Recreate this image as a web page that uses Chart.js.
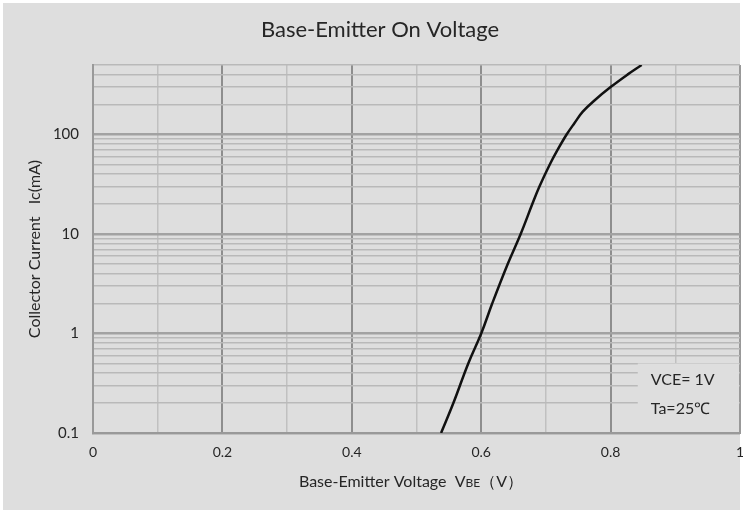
<!DOCTYPE html>
<html>
<head>
<meta charset="utf-8">
<script src="https://cdn.jsdelivr.net/npm/chart.js@4.4.0/dist/chart.umd.min.js"></script>
<style>
html,body{margin:0;padding:0;background:#fff;}
#c{display:block;}
</style>
</head>
<body>
<canvas id="c" width="743" height="513"></canvas>
<script>
// Data
const vbe = [0.538, 0.557, 0.580, 0.600, 0.617, 0.641, 0.661, 0.679, 0.690, 0.706, 0.718, 0.732, 0.744, 0.757, 0.775, 0.800, 0.826, 0.848];
const ic  = [0.1,   0.2,   0.5,   1,     2,     5,     10,    20,    30,    50,    70,    100,   130,   170,   220,   300,   400,   500];
const xTicks = [0, 0.1, 0.2, 0.3, 0.4, 0.5, 0.6, 0.7, 0.8, 0.9, 1];
const yTicks = [0.1,0.2,0.3,0.4,0.5,0.6,0.7,0.8,0.9,1,2,3,4,5,6,7,8,9,10,20,30,40,50,60,70,80,90,100,200,300,400,500];
const yLabels = [0.1, 1, 10, 100];
const titleText = 'Base-Emitter On Voltage';
const xTitleParts = ['Base-Emitter Voltage  V', 'BE', '（V）'];
const yTitleText = 'Collector Current   Ic(mA)';
const noteLines = ['VCE= 1V', 'Ta=25℃'];

const FONT = 'Lato, "Open Sans", sans-serif';
const BG = '#dedede';
const TXT = '#262626';

const bgPlugin = {
  id: 'bg',
  beforeDraw(chart) {
    const ctx = chart.ctx;
    ctx.save();
    ctx.fillStyle = '#ffffff';
    ctx.fillRect(0, 0, chart.width, chart.height);
    ctx.fillStyle = BG;
    ctx.fillRect(3, 3, chart.width - 6, chart.height - 6);
    ctx.restore();
  },
  afterDraw(chart) {
    const ctx = chart.ctx;
    const a = chart.chartArea;
    ctx.save();
    ctx.fillStyle = TXT;
    ctx.textBaseline = 'alphabetic';
    // chart title
    ctx.font = '22px ' + FONT;
    ctx.textAlign = 'center';
    ctx.fillText(titleText, 380, 37);
    // x axis title with small-caps subscript
    ctx.textAlign = 'left';
    const f1 = '16px ' + FONT, f2 = '12px ' + FONT;
    ctx.font = f1; const w0 = ctx.measureText(xTitleParts[0]).width;
    ctx.font = f2; const w1 = ctx.measureText(xTitleParts[1]).width;
    ctx.font = f1; const w2 = ctx.measureText(xTitleParts[2]).width;
    const total = w0 + w1 + w2;
    let x0 = 411 - total / 2;
    const base = 487;
    ctx.font = f1; ctx.fillText(xTitleParts[0], x0, base); x0 += w0;
    ctx.font = f2; ctx.fillText(xTitleParts[1], x0, base); x0 += w1;
    ctx.font = f1; ctx.fillText(xTitleParts[2], x0, base);
    // y axis title
    ctx.translate(35, (a.top + a.bottom) / 2);
    ctx.rotate(-Math.PI / 2);
    ctx.textAlign = 'center';
    ctx.textBaseline = 'middle';
    ctx.font = '16px ' + FONT;
    ctx.fillText(yTitleText, 0, 0);
    ctx.restore();
  },
  afterDatasetsDraw(chart) {
    const ctx = chart.ctx;
    const a = chart.chartArea;
    const xs = chart.scales.x, ys = chart.scales.y;
    ctx.save();
    const bx = xs.getPixelForValue(0.842), by = ys.getPixelForValue(0.5);
    ctx.fillStyle = BG;
    ctx.fillRect(bx, by, a.right - bx - 1, a.bottom - by - 1);
    ctx.fillStyle = TXT;
    ctx.font = '16px ' + FONT;
    ctx.textAlign = 'left';
    ctx.textBaseline = 'middle';
    ctx.fillText(noteLines[0], bx + 13, by + 16);
    ctx.fillText(noteLines[1], bx + 13, by + 45);
    ctx.restore();
  }
};

const isDecade = v => Math.abs(Math.log10(v) - Math.round(Math.log10(v))) < 1e-6;

new Chart(document.getElementById('c'), {
  type: 'line',
  data: {
    datasets: [{
      data: vbe.map((v, i) => ({x: v, y: ic[i]})),
      borderColor: '#111',
      borderWidth: 2.5,
      pointRadius: 0,
      tension: 0.4,
      fill: false
    }]
  },
  options: {
    responsive: false,
    animation: false,
    devicePixelRatio: 1,
    layout: {padding: {left: 0, top: 65, right: 3, bottom: 0}},
    plugins: {legend: {display: false}, title: {display: false}, tooltip: {enabled: false}},
    scales: {
      x: {
        type: 'linear',
        min: 0, max: 1,
        afterBuildTicks: s => { s.ticks = xTicks.map(v => ({value: v})); },
        afterFit: s => { s.height = 80; s.paddingLeft = 0; s.paddingRight = 0; },
        ticks: {
          autoSkip: false,
          maxRotation: 0,
          padding: 11,
          color: TXT,
          font: {family: FONT, size: 14},
          callback: v => (Math.round(v * 10) % 2 === 0 ? String(Math.round(v * 10) / 10) : '')
        },
        grid: {
          drawTicks: false,
          color: c => {
            const v = Math.round(c.tick.value * 10);
            if (v === 0 || v === 10) return '#999';
            return v % 2 === 0 ? '#8e8e8e' : '#c0c0c0';
          },
          lineWidth: c => {
            const v = Math.round(c.tick.value * 10);
            return v % 2 === 0 ? 2 : 1.5;
          }
        },
        border: {display: true, color: '#999', width: 2},
        title: {display: false}
      },
      y: {
        type: 'logarithmic',
        min: 0.1, max: 500,
        afterBuildTicks: s => { s.ticks = yTicks.map(v => ({value: v})); },
        afterFit: s => { s.width = 93; s.paddingTop = 0; s.paddingBottom = 0; },
        ticks: {
          autoSkip: false,
          padding: 14,
          color: TXT,
          font: {family: FONT, size: 15},
          callback: v => (yLabels.some(l => Math.abs(l - v) < 1e-9) ? String(v) : '')
        },
        grid: {
          drawTicks: false,
          color: c => (isDecade(c.tick.value) ? '#a2a2a2' : '#b9b9b9'),
          lineWidth: c => (isDecade(c.tick.value) ? 2.5 : 1.5)
        },
        border: {display: true, color: '#999', width: 2},
        title: {display: false}
      }
    }
  },
  plugins: [bgPlugin]
});
</script>
</body>
</html>
